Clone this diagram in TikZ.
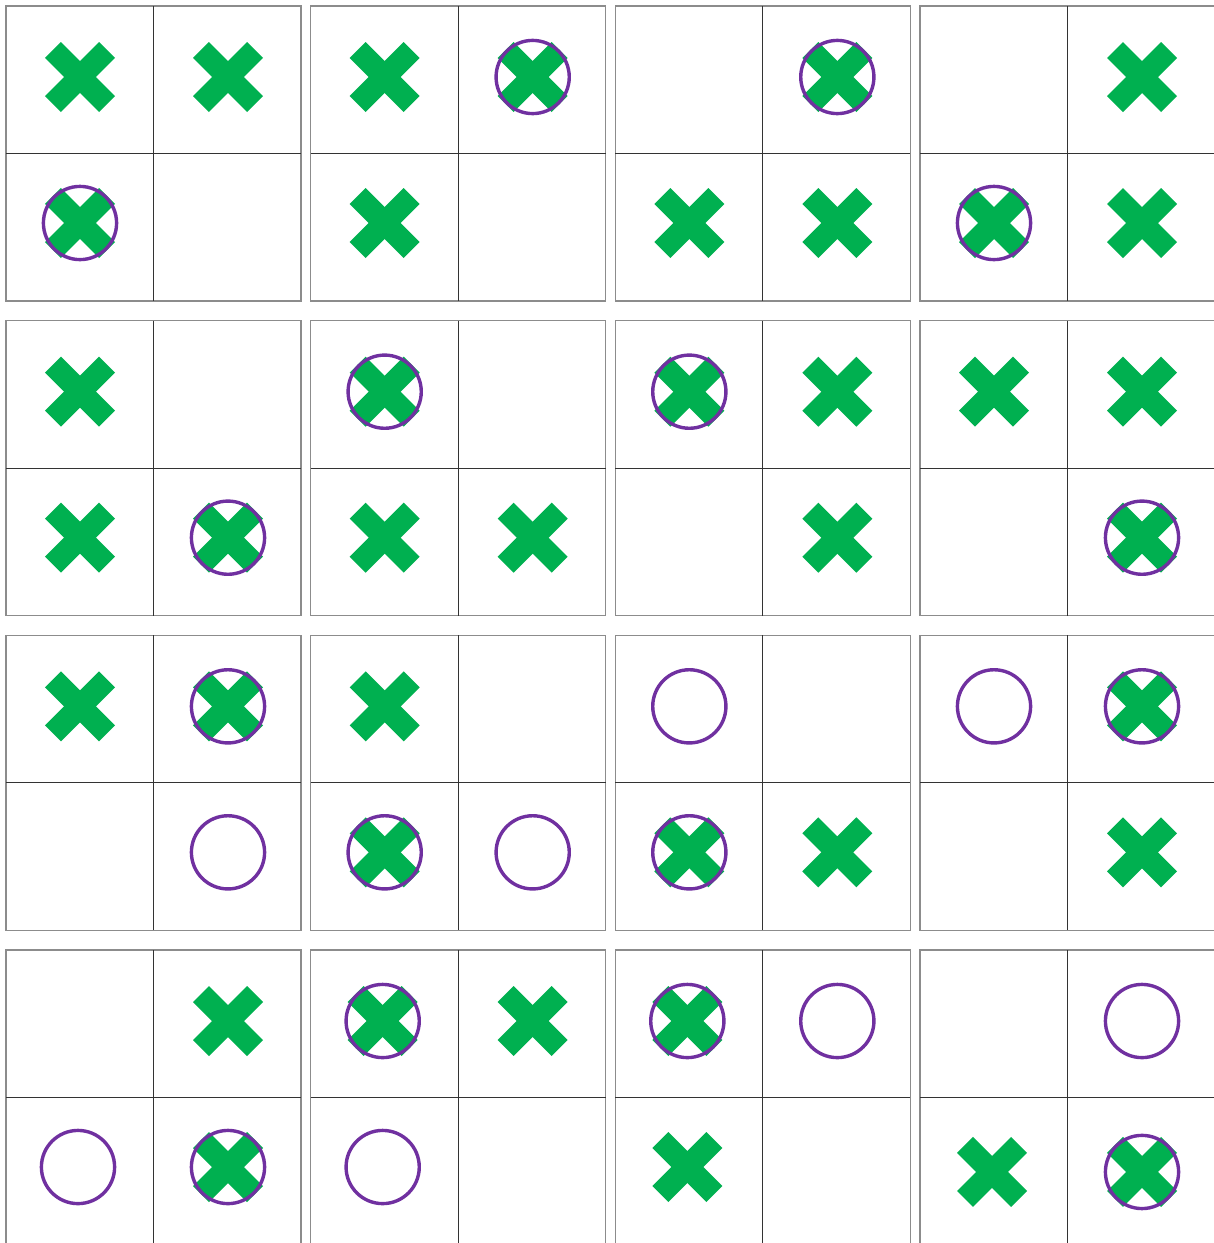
\documentclass[tikz,border=0pt]{standalone}
\usetikzlibrary{calc}
\definecolor{xgreen}{HTML}{00B050}
\definecolor{opurple}{HTML}{7030A0}
\tikzset{
  frame/.style={draw=black!45, line width=0.8pt},
  divider/.style={draw=black!80, line width=0.55pt},
  ring/.style={draw=opurple, line width=1.7pt},
  symX/.pic={
    \fill[xgreen, rotate=45] (-38.2,-11.3) rectangle (38.2,11.3);
    \fill[xgreen, rotate=-45] (-38.2,-11.3) rectangle (38.2,11.3);
  },
  symO/.pic={
    \draw[ring] (0,0) circle[radius=18.3pt];
  },
  symB/.pic={
    \fill[xgreen, rotate=45] (-38.2,-11.3) rectangle (38.2,11.3);
    \fill[xgreen, rotate=-45] (-38.2,-11.3) rectangle (38.2,11.3);
    \draw[ring] (0,0) circle[radius=18.3pt];
  },
}
\begin{document}
\begin{tikzpicture}[x=0.5pt,y=-0.5pt]
\useasboundingbox (0,0) rectangle (1214,1243);
\clip (0,0) rectangle (1214,1243);
\fill[white] (0,0) rectangle (1214,1243);
\foreach \c/\r/\cells in {
  0/0/{0/0/X,1/0/X,0/1/B},
  1/0/{0/0/X,1/0/B,0/1/X},
  2/0/{1/0/B,0/1/X,1/1/X},
  3/0/{1/0/X,0/1/B,1/1/X},
  0/1/{0/0/X,0/1/X,1/1/B},
  1/1/{0/0/B,0/1/X,1/1/X},
  2/1/{0/0/B,1/0/X,1/1/X},
  3/1/{0/0/X,1/0/X,1/1/B},
  0/2/{0/0/X,1/0/B,1/1/O},
  1/2/{0/0/X,0/1/B,1/1/O},
  2/2/{0/0/O,0/1/B,1/1/X},
  3/2/{0/0/O,1/0/B,1/1/X},
  0/3/{1/0/X,-0.0135/1/O,1/1/B},
  1/3/{-0.0135/0/B,1/0/X,-0.0135/1/O},
  2/3/{-0.0135/0/B,1/0/O,-0.0135/1/X},
  3/3/{1/0/O,-0.0135/1.034/X,1/1.034/B}}{
  \pgfmathsetmacro\px{6+304.67*\c}
  \pgfmathsetmacro\py{6+314.67*\r}
  \draw[frame] (\px,\py) rectangle ({\px+295},{\py+295});
  \draw[divider] ({\px+147.5},\py) -- ({\px+147.5},{\py+295});
  \draw[divider] (\px,{\py+147.5}) -- ({\px+295},{\py+147.5});
  \foreach \i/\j/\s in \cells {
    \pic at ({\px+74+148*\i},{\py+71+146*\j}) {sym\s};
  }
}
\end{tikzpicture}
\end{document}
